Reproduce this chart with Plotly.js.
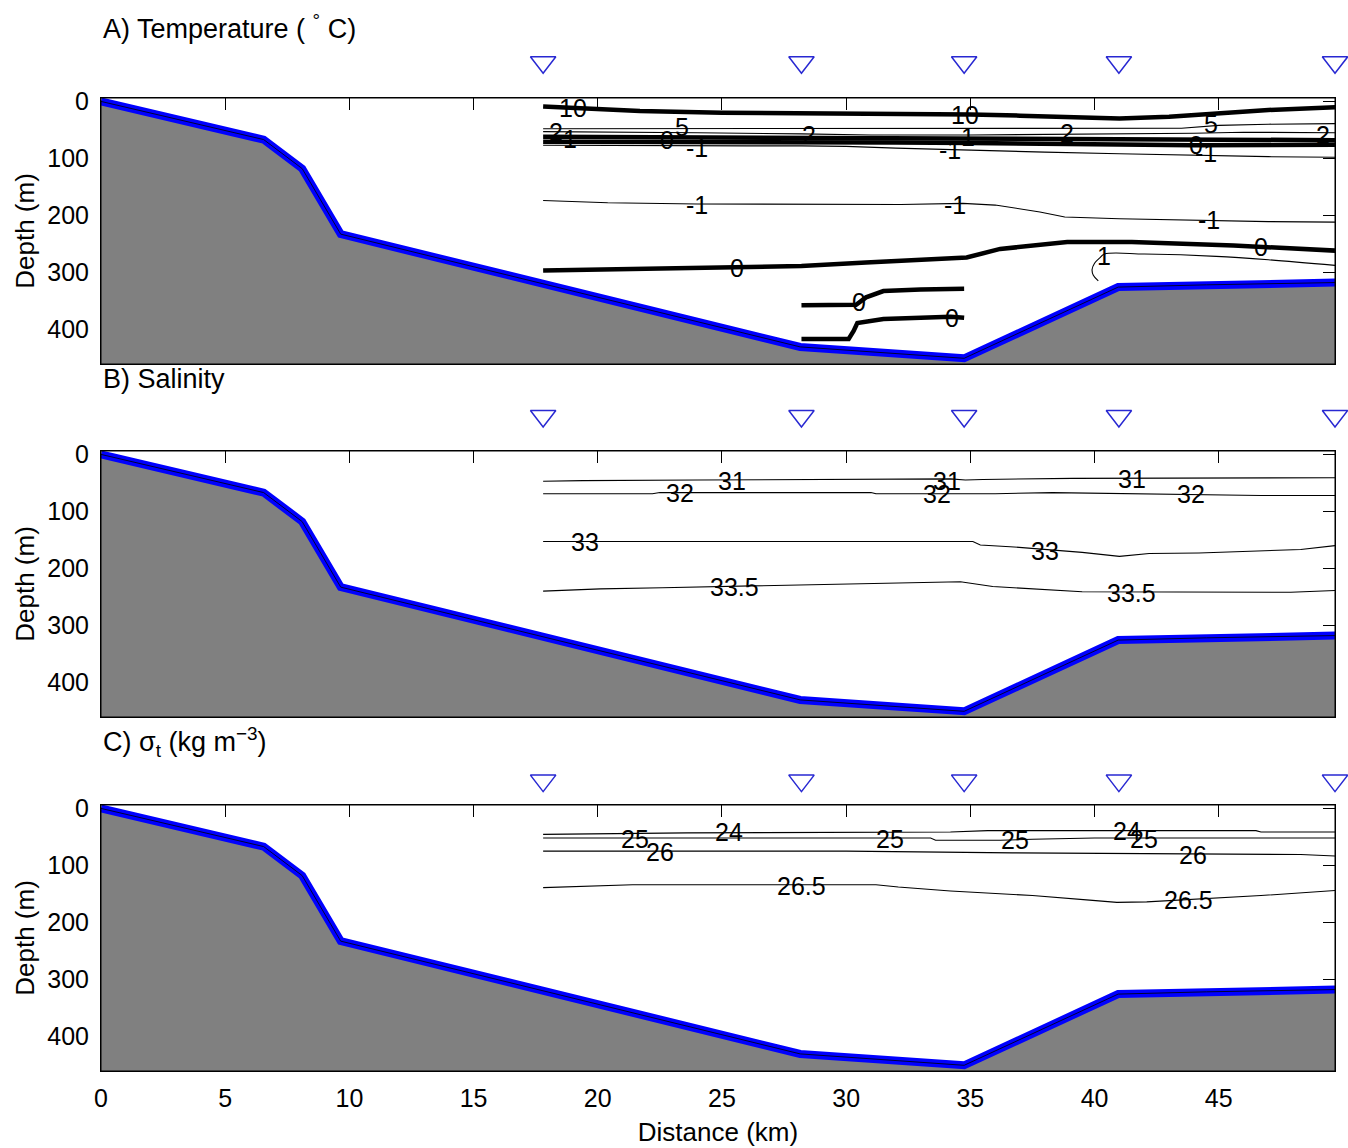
<!DOCTYPE html>
<html>
<head>
<meta charset="utf-8">
<script src="https://cdn.plot.ly/plotly-3.0.1.min.js"></script>
<style>html,body{margin:0;padding:0;background:#fff;}#chart{width:1348px;height:1148px;}</style>
</head>
<body>
<div id="chart"></div>
<script>
// ---------------- DATA ----------------
// Bathymetry (distance km, depth m)
const bathyX     = [0, 6.55, 8.1, 9.65, 28.15, 34.75, 40.95, 44.5, 49.7];
const bathyDepth = [0, 67, 118, 233, 431, 451, 326, 322, 318];

// CTD stations (distance km)
const stationX = [17.8, 28.2, 34.75, 40.98, 49.68];

// A) Temperature contours
const tA10x = [17.8, 19.9, 21.7, 25, 28.2, 32, 35, 37, 39.5, 41, 43, 44.5, 47, 49.7];
const tA10d = [9, 13, 17, 20, 21, 21, 23, 25, 29, 30, 27, 22, 15, 10];
const tA5x  = [17.8, 22, 26, 28.2, 32, 36, 40, 43.5, 45, 47, 49.7];
const tA5d  = [48, 48, 47.5, 47, 47, 47, 47, 47, 42, 40, 39];
const tA2x  = [17.8, 22, 24, 28.2, 31, 35, 38, 41, 44, 46, 49.7];
const tA2d  = [53, 54, 55, 57, 59, 59, 58, 57, 56, 54, 55];
const tA1x  = [17.8, 22, 28.2, 31, 35, 38, 41, 44, 49.7];
const tA1d  = [62, 63, 64, 65, 66, 67, 67, 68, 68];
const tA0ux = [17.8, 22, 26, 28.2, 32, 35, 38, 41, 44, 49.7];
const tA0ud = [71, 71, 71, 71, 72, 73, 74, 75, 77, 76];
const tAm1ux = [17.8, 22, 26, 28.2, 30, 32, 34.2, 38, 41, 44.4, 47, 49.7];
const tAm1ud = [77, 78, 78, 78, 79, 82, 85, 89, 92, 95, 97, 98];
const tAm1lx = [17.8, 20.4, 24, 28.2, 32.2, 34.7, 36, 37.8, 38.8, 41, 44.2, 47, 49.7];
const tAm1ld = [174, 178, 180, 180, 181, 179, 182, 194, 203, 206, 209, 211, 212];
const tA0dx = [17.8, 22.1, 25.4, 28.2, 30.8, 34.2, 34.85, 36.2, 38.9, 41.5, 45.6, 49.7];
const tA0dd = [297, 294, 291, 289, 283, 277, 274, 259, 247, 247, 253, 262];
const tA1dx = [40.15, 39.95, 39.9, 40.0, 40.2, 40.4, 42, 44.9, 47, 49.7];
const tA1dd = [315, 305, 295, 284, 275, 268, 268, 272, 278, 288];
const tA0b1x = [28.2, 30.4, 30.8, 31.5, 33, 34.75];
const tA0b1d = [358, 357, 344, 333, 330, 329];
const tA0b2x = [28.2, 30.1, 30.3, 30.45, 31.5, 34.2, 34.75];
const tA0b2d = [417, 417, 403, 389, 382, 378, 380];
// Temperature labels
const tLabText = ["10", "10", "2", "1", "0", "5", "-1", "2", "1", "-1", "2", "5", "0", "-1", "2",
                  "-1", "-1", "-1", "0", "0", "1", "0", "0"];
const tLabX    = [19.0, 34.8, 18.3, 18.9, 22.8, 23.4, 24.0, 28.5, 34.9, 34.2, 38.9, 44.7, 44.1, 44.5, 49.2,
                  24.0, 34.4, 44.6, 25.6, 46.7, 40.4, 30.5, 34.25];
const tLabD    = [12, 24, 53, 66, 68, 45, 82, 59, 63, 86, 56, 39, 77, 90, 59,
                  181, 182, 209, 293, 256, 272, 353, 381];

// B) Salinity contours
const s31x = [17.8, 19.4, 24, 31.5, 34.2, 34.8, 35.5, 39.1, 44, 49.7];
const s31d = [47, 46, 45, 43.5, 43, 45, 44, 42, 41, 41];
const s32x = [17.8, 22.2, 22.5, 31, 31.2, 36, 38.3, 42.1, 46.7, 49.7];
const s32d = [69, 69, 67, 67, 69, 69, 67, 69, 72, 72];
const s33x = [17.8, 25, 32, 35.1, 35.4, 36.6, 39.5, 41, 42.2, 44.2, 48.3, 49.7];
const s33d = [153, 153, 153, 153, 159, 162, 172, 179, 174, 173, 167, 160];
const s335x = [17.8, 20.1, 22.6, 29.4, 32.2, 34.6, 35.9, 39.5, 47.9, 49.7];
const s335d = [240, 236, 234, 227.5, 225, 223.5, 232, 241, 242, 239];
const sLabText = ["31", "31", "31", "32", "32", "32", "33", "33", "33.5", "33.5"];
const sLabX    = [25.4, 34.05, 41.5, 23.3, 33.65, 43.9, 19.5, 38.0, 25.5, 41.5];
const sLabD    = [46, 46, 43, 68, 69, 69, 153, 169, 232, 243];

// C) Sigma-t contours
const c24x = [17.8, 23.6, 34.2, 35.7, 46.5, 46.7, 49.7];
const c24d = [45.5, 43, 41.5, 39, 39, 41.5, 41.5];
const c25x = [17.8, 25, 33.4, 33.6, 36.2, 37.5, 40, 49.7];
const c25d = [52, 52, 52, 56, 56, 54, 52, 52];
const c26x = [17.8, 30, 36.7, 40, 48.3, 49.7];
const c26d = [75, 75, 78, 79, 81, 83.5];
const c265x = [17.8, 19.5, 21.4, 31.2, 32.1, 34.2, 37.5, 39.8, 40.9, 42.1, 46.7, 49.7];
const c265d = [139, 137, 134, 134, 138, 145, 153, 161, 165, 164, 153, 144];
const cLabText = ["25", "26", "24", "25", "25", "24", "25", "26", "26.5", "26.5"];
const cLabX    = [21.5, 22.5, 25.3, 31.75, 36.8, 41.3, 42.0, 43.95, 28.2, 43.8];
const cLabD    = [53, 77, 42, 53, 56, 39, 53, 82, 137, 160];

const xTicks = [0, 5, 10, 15, 20, 25, 30, 35, 40, 45];
const yTicks = [0, 100, 200, 300, 400];

// ---------------- STYLE / LAYOUT ----------------
const FONT = '"Liberation Sans", Arial, Helvetica, sans-serif';
const X_RANGE = [0, 49.68];
const Y_RANGE = [461, -6];
const BOTTOM = 520;
const H = 1148;
const dom = (top, bot) => [1 - bot / H, 1 - top / H];
const panels = [
  {xa: 'x',  ya: 'y',  sa: 'y4', dom: dom(98, 364),  sdom: dom(42.3, 82.3)},
  {xa: 'x2', ya: 'y2', sa: 'y5', dom: dom(451, 717), sdom: dom(396, 436)},
  {xa: 'x3', ya: 'y3', sa: 'y6', dom: dom(805, 1071), sdom: dom(760.6, 800.6)}
];

const traces = [];
function addBathy(p) {
  const fx = bathyX.concat([bathyX[bathyX.length - 1], bathyX[0]]);
  const fy = bathyDepth.concat([BOTTOM, BOTTOM]);
  traces.push({x: fx, y: fy, xaxis: p.xa, yaxis: p.ya, mode: 'lines', fill: 'toself',
    fillcolor: '#808080', line: {width: 0, color: '#808080'}, hoverinfo: 'skip', showlegend: false});
  traces.push({x: bathyX, y: bathyDepth, xaxis: p.xa, yaxis: p.ya, mode: 'lines',
    line: {width: 8, color: '#0000ff'}, showlegend: false});
  traces.push({x: bathyX, y: bathyDepth, xaxis: p.xa, yaxis: p.ya, mode: 'lines',
    line: {width: 1, color: '#000033'}, showlegend: false});
}
function addLine(p, x, d, w, shape) {
  traces.push({x: x, y: d, xaxis: p.xa, yaxis: p.ya, mode: 'lines',
    line: {width: w, color: '#000000', shape: shape || 'linear'}, showlegend: false});
}
function addStations(p) {
  traces.push({x: stationX, y: stationX.map(() => 0.5), xaxis: p.xa, yaxis: p.sa,
    mode: 'markers', showlegend: false, cliponaxis: false,
    marker: {symbol: 'triangle-down-open', size: 22, color: 'rgb(40,40,210)', line: {width: 1.5, color: 'rgb(40,40,210)'}}});
}

const THICK = 4.5, THIN = 1.1;
// Panel A
addBathy(panels[0]);
addLine(panels[0], tA10x, tA10d, THICK);
addLine(panels[0], tA5x, tA5d, THIN);
addLine(panels[0], tA2x, tA2d, THIN);
addLine(panels[0], tA1x, tA1d, THICK);
addLine(panels[0], tA0ux, tA0ud, THICK);
addLine(panels[0], tAm1ux, tAm1ud, THIN);
addLine(panels[0], tAm1lx, tAm1ld, THIN);
addLine(panels[0], tA0dx, tA0dd, THICK);
addLine(panels[0], tA1dx, tA1dd, THIN, 'spline');
addLine(panels[0], tA0b1x, tA0b1d, THICK);
addLine(panels[0], tA0b2x, tA0b2d, THICK);
addStations(panels[0]);
// Panel B
addBathy(panels[1]);
addLine(panels[1], s31x, s31d, THIN);
addLine(panels[1], s32x, s32d, THIN);
addLine(panels[1], s33x, s33d, THIN);
addLine(panels[1], s335x, s335d, THIN);
addStations(panels[1]);
// Panel C
addBathy(panels[2]);
addLine(panels[2], c24x, c24d, THIN);
addLine(panels[2], c25x, c25d, THIN);
addLine(panels[2], c26x, c26d, THIN);
addLine(panels[2], c265x, c265d, THIN);
addStations(panels[2]);

const annotations = [];
function addLabels(p, txt, xs, ds) {
  txt.forEach((t, i) => annotations.push({text: t, x: xs[i], y: ds[i], xref: p.xa, yref: p.ya,
    showarrow: false, font: {family: FONT, size: 25, color: '#000'}}));
}
addLabels(panels[0], tLabText, tLabX, tLabD);
addLabels(panels[1], sLabText, sLabX, sLabD);
addLabels(panels[2], cLabText, cLabX, cLabD);

const titleFont = {family: FONT, size: 26, color: '#000'};
const panelTitleFont = {family: FONT, size: 27, color: '#000'};
annotations.push({text: 'A) Temperature ( <sup>°</sup> C)', xref: 'paper', yref: 'paper', x: 0, y: 1 - 27 / H,
  xanchor: 'left', yanchor: 'middle', showarrow: false, font: panelTitleFont});
annotations.push({text: 'B) Salinity', xref: 'paper', yref: 'paper', x: 0, y: 1 - 379 / H,
  xanchor: 'left', yanchor: 'middle', showarrow: false, font: panelTitleFont});
annotations.push({text: 'C) σ<sub>t</sub> (kg m<sup>−3</sup>)', xref: 'paper', yref: 'paper', x: 0, y: 1 - 742 / H,
  xanchor: 'left', yanchor: 'middle', showarrow: false, font: panelTitleFont});

const tickFont = {family: FONT, size: 25, color: '#000'};
function xAxis(anchor, showLabels) {
  const a = {anchor: anchor, range: X_RANGE, tickvals: xTicks, ticks: 'inside', ticklen: 12, tickcolor: '#000',
    showline: true, linecolor: '#000', linewidth: 1, mirror: 'ticks', showgrid: false, zeroline: false,
    layer: 'below traces', tickfont: tickFont, showticklabels: showLabels, ticklabelstandoff: 5};
  if (showLabels) a.title = {text: 'Distance (km)', font: titleFont, standoff: 11};
  return a;
}
function yAxis(anchor, d) {
  return {anchor: anchor, domain: d, range: Y_RANGE, tickvals: yTicks, ticks: 'inside', ticklen: 12, tickcolor: '#000',
    showline: true, linecolor: '#000', linewidth: 1, mirror: 'ticks', showgrid: false, zeroline: false,
    layer: 'below traces', tickfont: tickFont, ticklabelstandoff: 6,
    title: {text: 'Depth (m)', font: titleFont, standoff: 5}};
}
function stationAxis(d) {
  return {domain: d, range: [0, 1], visible: false, fixedrange: true};
}

const shapes = panels.map(p => ({type: 'rect', xref: p.xa + ' domain', yref: p.ya + ' domain',
  x0: 0, x1: 1, y0: 0, y1: 1, line: {color: '#000', width: 1}, layer: 'above'}));

const layout = {
  width: 1348, height: 1148,
  margin: {l: 101, r: 13, t: 0, b: 0},
  paper_bgcolor: '#fff', plot_bgcolor: 'rgba(0,0,0,0)',
  font: {family: FONT, color: '#000'},
  showlegend: false,
  xaxis: xAxis('y', false),
  xaxis2: xAxis('y2', false),
  xaxis3: xAxis('y3', true),
  yaxis: yAxis('x', panels[0].dom),
  yaxis2: yAxis('x2', panels[1].dom),
  yaxis3: yAxis('x3', panels[2].dom),
  yaxis4: stationAxis(panels[0].sdom),
  yaxis5: stationAxis(panels[1].sdom),
  yaxis6: stationAxis(panels[2].sdom),
  annotations: annotations,
  shapes: shapes
};

Plotly.newPlot('chart', traces, layout, {staticPlot: true});
</script>
</body>
</html>
